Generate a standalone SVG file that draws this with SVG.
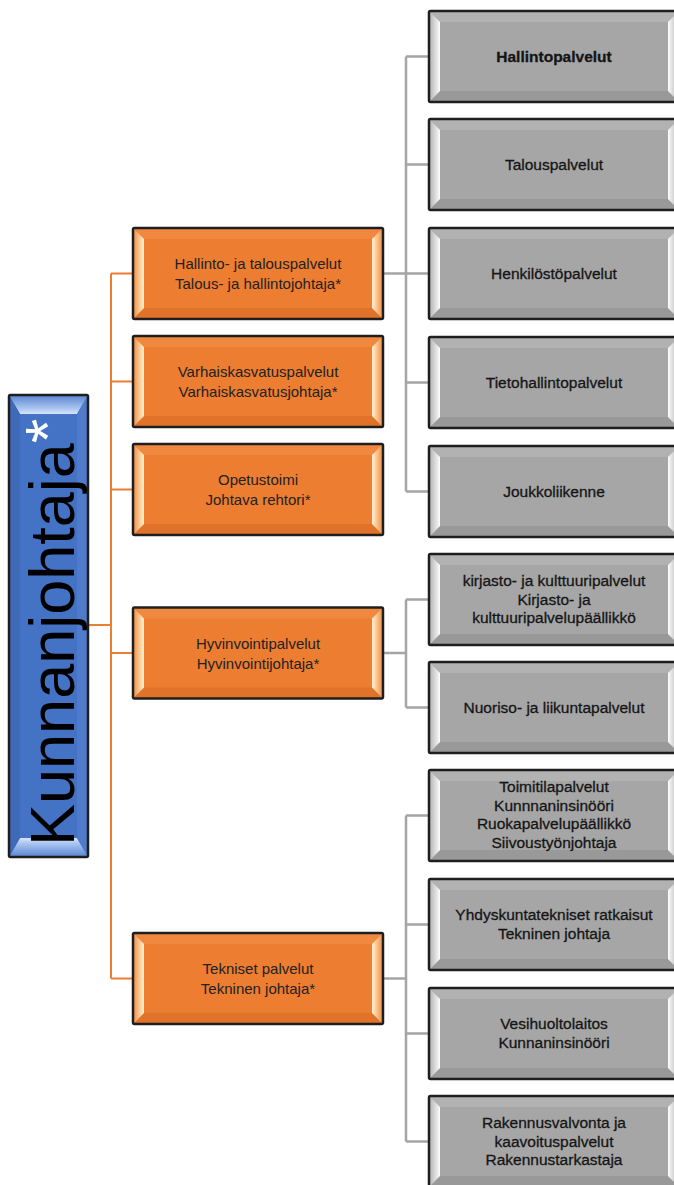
<svg xmlns="http://www.w3.org/2000/svg" width="674" height="1185" viewBox="0 0 674 1185">
<style>
.frame{fill:none;stroke:#1e1e1e;stroke-width:2.5}
.oface{fill:#ED7D31}
.otop{fill:#F08840}
.obot{fill:#E0722A}
.gface{fill:#A6A6A6}
.gtop{fill:#B2B2B2}
.gbot{fill:#999999}
.oline{fill:none;stroke:#ED7D31;stroke-width:2}
.gline{fill:none;stroke:#A5A5A5;stroke-width:2.5}
.ot{font-family:"Liberation Sans",Arial,sans-serif;font-size:15px;fill:#222;text-anchor:middle}
.gt{font-family:"Liberation Sans",Arial,sans-serif;font-size:15.5px;fill:#151515;stroke:#151515;stroke-width:0.3;text-anchor:middle}
</style>
<defs>
<linearGradient id="oL" x1="0" y1="0" x2="1" y2="0"><stop offset="0" stop-color="#F08A42"/><stop offset="0.75" stop-color="#FFD9A8"/><stop offset="1" stop-color="#FFF3DC"/></linearGradient>
<linearGradient id="oR" x1="0" y1="0" x2="1" y2="0"><stop offset="0" stop-color="#FFF3DC"/><stop offset="0.25" stop-color="#FFD9A8"/><stop offset="1" stop-color="#F08A42"/></linearGradient>
<linearGradient id="gL" x1="0" y1="0" x2="1" y2="0"><stop offset="0" stop-color="#B0B0B0"/><stop offset="0.75" stop-color="#E8E8E8"/><stop offset="1" stop-color="#FFFFFF"/></linearGradient>
<linearGradient id="gR" x1="0" y1="0" x2="1" y2="0"><stop offset="0" stop-color="#FFFFFF"/><stop offset="0.25" stop-color="#E8E8E8"/><stop offset="1" stop-color="#B0B0B0"/></linearGradient>
<linearGradient id="bT" x1="0" y1="0" x2="0" y2="1"><stop offset="0" stop-color="#5A85D0"/><stop offset="0.7" stop-color="#A9C4F0"/><stop offset="1" stop-color="#D8E5FA"/></linearGradient>
<linearGradient id="bB" x1="0" y1="0" x2="0" y2="1"><stop offset="0" stop-color="#D8E5FA"/><stop offset="0.3" stop-color="#A9C4F0"/><stop offset="1" stop-color="#5A85D0"/></linearGradient>
<g id="obox">
<rect class="oface" x="0" y="0" width="250" height="91"/>
<polygon class="otop" points="0,0 250,0 239,11 11,11"/>
<polygon class="obot" points="0,91 250,91 239,80 11,80"/>
<polygon fill="url(#oL)" points="0,0 11,11 11,80 0,91"/>
<polygon fill="url(#oR)" points="250,0 239,11 239,80 250,91"/>
<rect class="frame" x="0" y="0" width="250" height="91" rx="1.5"/>
</g>
<g id="gbox">
<rect class="gface" x="0" y="0" width="250" height="91"/>
<polygon class="gtop" points="0,0 250,0 239,11 11,11"/>
<polygon class="gbot" points="0,91 250,91 239,80 11,80"/>
<polygon fill="url(#gL)" points="0,0 11,11 11,80 0,91"/>
<polygon fill="url(#gR)" points="250,0 239,11 239,80 250,91"/>
<rect class="frame" x="0" y="0" width="250" height="91" rx="1.5"/>
</g>
</defs>

<g id="connectors">
<path class="oline" d="M88,625 H111 M111,273.5 V978.5 M111,273.5 H133 M111,381.5 H133 M111,489.5 H133 M111,653 H133 M111,978.5 H133"/>
<path class="gline" d="M383,273.5 H406 M406,56.5 V491.5 M406,56.5 H429 M406,164.5 H429 M406,273.5 H429 M406,382.5 H429 M406,491.5 H429"/>
<path class="gline" d="M383,653 H406 M406,599.5 V707.5 M406,599.5 H429 M406,707.5 H429"/>
<path class="gline" d="M383,978.5 H406 M406,815.5 V1141.5 M406,815.5 H429 M406,924.5 H429 M406,1033.5 H429 M406,1141.5 H429"/>
</g>

<g id="kunnanjohtaja">
<rect x="9" y="395" width="79" height="462" fill="#4472C4"/>
<polygon fill="url(#bT)" points="9,395 88,395 77,414 20,414"/>
<polygon fill="url(#bB)" points="9,857 88,857 77,838 20,838"/>
<polygon fill="#3F6AB8" points="9,395 20,414 20,838 9,857"/>
<polygon fill="#4F7BCA" points="88,395 77,414 77,838 88,857"/>
<rect class="frame" x="9" y="395" width="79" height="462" rx="1.5"/>
<text transform="translate(74,846) rotate(-90)" font-family="'Liberation Sans',Arial,sans-serif" font-size="63" fill="#000">Kunnanjohtaja<tspan fill="#FFFFFF" dy="-5">*</tspan></text>
</g>

<g id="hallinto-talous" transform="translate(133,228)"><use href="#obox"/><text class="ot" x="125" y="41">Hallinto- ja talouspalvelut</text><text class="ot" x="125" y="61">Talous- ja hallintojohtaja*</text></g>
<g id="varhaiskasvatus" transform="translate(133,336)"><use href="#obox"/><text class="ot" x="125" y="41">Varhaiskasvatuspalvelut</text><text class="ot" x="125" y="61">Varhaiskasvatusjohtaja*</text></g>
<g id="opetustoimi" transform="translate(133,444)"><use href="#obox"/><text class="ot" x="125" y="41">Opetustoimi</text><text class="ot" x="125" y="61">Johtava rehtori*</text></g>
<g id="hyvinvointi" transform="translate(133,607.5)"><use href="#obox"/><text class="ot" x="125" y="41">Hyvinvointipalvelut</text><text class="ot" x="125" y="61">Hyvinvointijohtaja*</text></g>
<g id="tekniset" transform="translate(133,933)"><use href="#obox"/><text class="ot" x="125" y="41">Tekniset palvelut</text><text class="ot" x="125" y="61">Tekninen johtaja*</text></g>

<g id="hallintopalvelut" transform="translate(429,11)"><use href="#gbox"/><text class="gt" x="125" y="51" font-weight="bold" font-size="15">Hallintopalvelut</text></g>
<g id="talouspalvelut" transform="translate(429,119)"><use href="#gbox"/><text class="gt" x="125" y="51">Talouspalvelut</text></g>
<g id="henkilostopalvelut" transform="translate(429,228)"><use href="#gbox"/><text class="gt" x="125" y="51">Henkilöstöpalvelut</text></g>
<g id="tietohallintopalvelut" transform="translate(429,337)"><use href="#gbox"/><text class="gt" x="125" y="51">Tietohallintopalvelut</text></g>
<g id="joukkoliikenne" transform="translate(429,446)"><use href="#gbox"/><text class="gt" x="125" y="51">Joukkoliikenne</text></g>
<g id="kirjasto" transform="translate(429,554)"><use href="#gbox"/><text class="gt" x="125" y="32">kirjasto- ja kulttuuripalvelut</text><text class="gt" x="125" y="50.5">Kirjasto- ja</text><text class="gt" x="125" y="69">kulttuuripalvelupäällikkö</text></g>
<g id="nuoriso" transform="translate(429,662)"><use href="#gbox"/><text class="gt" x="125" y="51">Nuoriso- ja liikuntapalvelut</text></g>
<g id="toimitilapalvelut" transform="translate(429,770)"><use href="#gbox"/><text class="gt" x="125" y="22">Toimitilapalvelut</text><text class="gt" x="125" y="40.5">Kunnnaninsinööri</text><text class="gt" x="125" y="59">Ruokapalvelupäällikkö</text><text class="gt" x="125" y="77.5">Siivoustyönjohtaja</text></g>
<g id="yhdyskuntatekniset" transform="translate(429,879)"><use href="#gbox"/><text class="gt" x="125" y="41">Yhdyskuntatekniset ratkaisut</text><text class="gt" x="125" y="60">Tekninen johtaja</text></g>
<g id="vesihuoltolaitos" transform="translate(429,988)"><use href="#gbox"/><text class="gt" x="125" y="41">Vesihuoltolaitos</text><text class="gt" x="125" y="60">Kunnaninsinööri</text></g>
<g id="rakennusvalvonta" transform="translate(429,1096)"><use href="#gbox"/><text class="gt" x="125" y="32">Rakennusvalvonta ja</text><text class="gt" x="125" y="50.5">kaavoituspalvelut</text><text class="gt" x="125" y="69">Rakennustarkastaja</text></g>
</svg>
